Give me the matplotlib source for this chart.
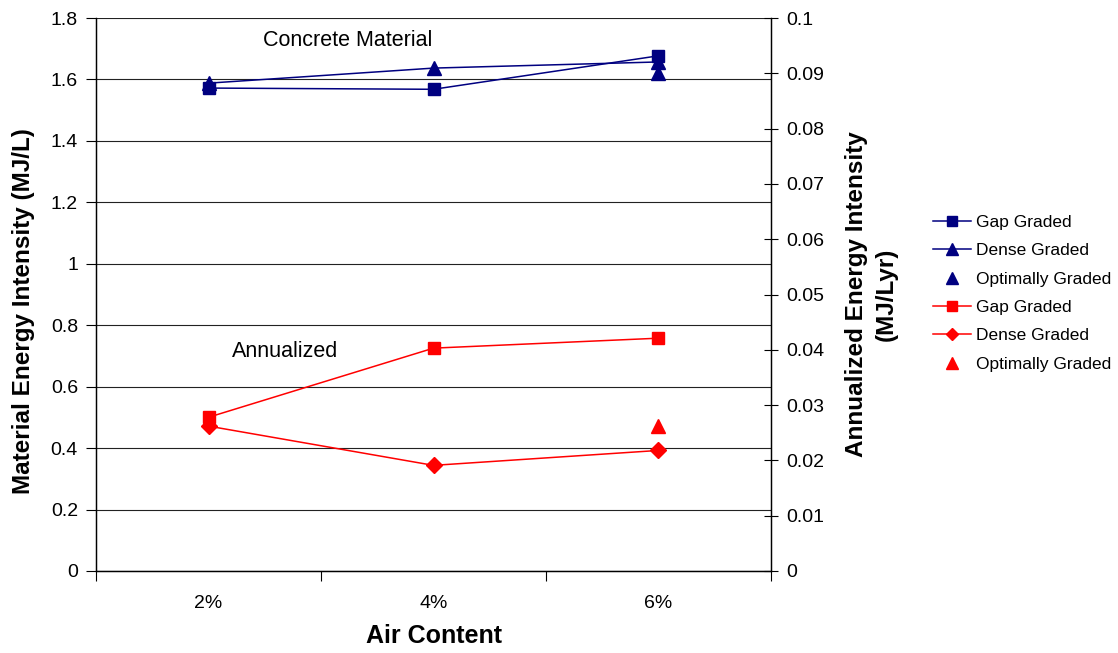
import matplotlib
matplotlib.use("Agg")
import matplotlib.pyplot as plt
from matplotlib.lines import Line2D

plt.rcParams['font.family'] = ['Liberation Sans', 'DejaVu Sans']

# air content categories
air = ["2%", "4%", "6%"]

# concrete material intensity (MJ/L), left axis
mat_gap = [1.572, 1.568, 1.677]
mat_dense = [1.588, 1.637, 1.657]
mat_optimal_6 = 1.621

# annualized intensity (MJ/L-yr), right axis
ann_gap = [0.0278, 0.0403, 0.0421]
ann_dense = [0.0262, 0.0191, 0.0218]
ann_optimal_6 = 0.0262

navy = "#000080"
red = "#FF0000"

fig = plt.figure(figsize=(11.18, 6.53), dpi=100)
ax = fig.add_axes([0.0859, 0.1256, 0.6037, 0.8468])
ax2 = ax.twinx()

x = range(len(air))
ax.plot(x, mat_gap, color=navy, lw=1.1, marker="s", ms=9)
ax.plot(x, mat_dense, color=navy, lw=1.1, marker="^", ms=10)
ax.plot([2], [mat_optimal_6], color=navy, ls="none", marker="^", ms=10)

ax2.plot(x, ann_gap, color=red, lw=1.1, marker="s", ms=9)
ax2.plot(x, ann_dense, color=red, lw=1.1, marker="D", ms=8)
ax2.plot([2], [ann_optimal_6], color=red, ls="none", marker="^", ms=10)

ax.set_xlim(-0.5, 2.5)
ax.set_ylim(0, 1.8)
ax2.set_ylim(0, 0.1)
ax.set_yticks([i * 0.2 for i in range(10)])
ax.set_yticklabels(["0", "0.2", "0.4", "0.6", "0.8", "1", "1.2", "1.4", "1.6", "1.8"])
ax2.set_yticks([i * 0.01 for i in range(11)])
ax2.set_yticklabels(["0"] + ["%.2f" % (i * 0.01) for i in range(1, 10)] + ["0.1"])

# category boundaries carry the tick marks, labels sit between them
ax.set_xticks([-0.5, 0.5, 1.5, 2.5])
ax.set_xticklabels([])
ax.set_xticks(list(x), minor=True)
ax.set_xticklabels(air, minor=True)
ax.tick_params(axis="x", which="major", direction="out", length=7, width=0.8)
ax.tick_params(axis="x", which="minor", length=0, pad=17, labelsize=14)
ax.tick_params(axis="y", direction="out", length=7, width=0.8, labelsize=14, pad=6)
ax2.tick_params(axis="y", direction="inout", length=10, width=0.8, labelsize=14, pad=6)

ax.yaxis.grid(True, color="#222222", lw=0.8)
ax.set_axisbelow(True)
for a in (ax, ax2):
    a.spines["top"].set_visible(False)
    for s in a.spines.values():
        s.set_linewidth(0.9)

ax.set_xlabel("Air Content", fontsize=18, fontweight="bold", labelpad=9)
ax.set_ylabel("Material Energy Intensity (MJ/L)", fontsize=17.5, fontweight="bold")
ax.yaxis.set_label_coords(-0.091, 0.47)
ax2.set_ylabel("Annualized Energy Intensity\n(MJ/Lyr)", fontsize=17.5, fontweight="bold",
               labelpad=15, linespacing=1.35)

ax.text(0.618, 1.728, "Concrete Material", fontsize=15.5, ha="center", va="center")
ax.text(0.342, 0.713, "Annualized", fontsize=15.5, ha="center", va="center")

handles = [
    Line2D([], [], color=navy, lw=1.1, marker="s", ms=7),
    Line2D([], [], color=navy, lw=1.1, marker="^", ms=8),
    Line2D([], [], color=navy, ls="none", marker="^", ms=8),
    Line2D([], [], color=red, lw=1.1, marker="s", ms=7),
    Line2D([], [], color=red, lw=1.1, marker="D", ms=6),
    Line2D([], [], color=red, ls="none", marker="^", ms=8),
]
labels = ["Gap Graded", "Dense Graded", "Optimally Graded"] * 2
fig.legend(handles, labels, loc="center left", bbox_to_anchor=(0.8345, 0.551),
           frameon=False, fontsize=12.5, handlelength=2.2, handletextpad=0.3,
           labelspacing=0.76, borderaxespad=0, borderpad=0)

fig.savefig("out.png", dpi=100)
